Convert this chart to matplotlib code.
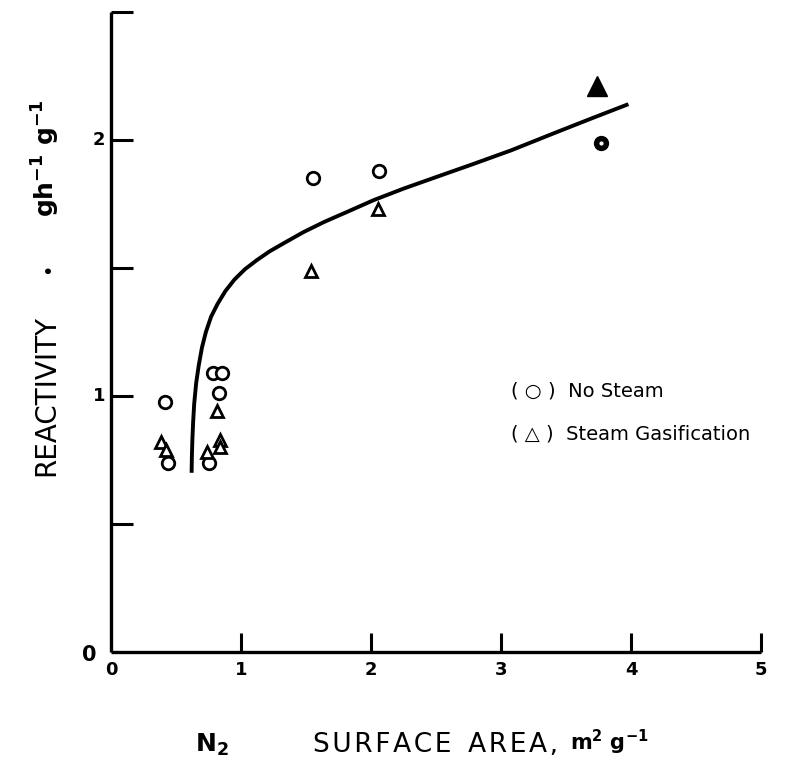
import matplotlib
matplotlib.use("Agg")
import matplotlib.pyplot as plt

# Data
circle_x = [0.415, 0.44, 0.785, 0.855, 0.83, 0.755, 1.55, 2.06]
circle_y = [0.977, 0.74, 1.09, 1.09, 1.01, 0.74, 1.85, 1.88]
tri_x = [0.385, 0.42, 0.74, 0.84, 0.84, 0.815, 1.54, 2.05]
tri_y = [0.82, 0.79, 0.78, 0.83, 0.80, 0.94, 1.49, 1.73]
filled_circle_x = [3.77]
filled_circle_y = [1.99]
filled_tri_x = [3.74]
filled_tri_y = [2.21]

curve_x = [0.62, 0.622, 0.626, 0.632, 0.64, 0.655, 0.675, 0.70, 0.73, 0.77, 0.82,
           0.88, 0.95, 1.03, 1.12, 1.22, 1.34, 1.48, 1.64, 1.82, 2.02, 2.25,
           2.50, 2.78, 3.08, 3.40, 3.70, 3.98]
curve_y = [0.70, 0.76, 0.83, 0.90, 0.97, 1.05, 1.12, 1.19, 1.25, 1.31, 1.36,
           1.41, 1.455, 1.495, 1.53, 1.565, 1.60, 1.64, 1.68, 1.72, 1.765, 1.81,
           1.855, 1.905, 1.96, 2.025, 2.085, 2.14]

x_ticks = [1, 2, 3, 4, 5]
x_tick_labels = ["0", "1", "2", "3", "4", "5"]
y_ticks = [0.5, 1.0, 1.5, 2.0, 2.5]
y_tick_labels = {1.0: "1", 2.0: "2"}

plt.rcParams['font.family'] = ['DejaVu Sans']
plt.rcParams['mathtext.fontset'] = 'dejavusans'

fig = plt.figure(figsize=(7.97, 7.69), dpi=100)
ax = fig.add_axes([111/797, (769-652)/769, 650/797, 640/769])
ax.set_xlim(0, 5)
ax.set_ylim(0, 2.5)

for s in ['top', 'right']:
    ax.spines[s].set_visible(False)
for s in ['left', 'bottom']:
    ax.spines[s].set_linewidth(2.4)
    ax.spines[s].set_capstyle('butt')

ax.set_xticks(x_ticks)
ax.set_yticks(y_ticks)
ax.set_xticklabels([])
ax.set_yticklabels([])
ax.tick_params(axis='x', direction='in', length=14, width=2.2)
ax.tick_params(axis='y', direction='in', length=16, width=2.2)

# tick labels
for i, lab in enumerate(x_tick_labels):
    ax.text(i, -0.07, lab, ha='center', va='center', fontsize=13, fontweight='bold')
for v, lab in y_tick_labels.items():
    ax.text(-0.09, v, lab, ha='center', va='center', fontsize=13, fontweight='bold')
ax.text(-0.17, -0.01, "0", ha='center', va='center', fontsize=15, fontweight='bold')

# curve
ax.plot(curve_x, curve_y, color='black', lw=2.8, solid_capstyle='butt',
        solid_joinstyle='round', clip_on=False)

# points
ax.plot(circle_x, circle_y, 'o', ms=9, mfc='white', mec='black', mew=2.0, ls='none', clip_on=False)
ax.plot(tri_x, tri_y, '^', ms=8, mfc='white', mec='black', mew=2.0, ls='none', clip_on=False)
ax.plot(filled_circle_x, filled_circle_y, 'o', ms=10, mfc='black', mec='black', ls='none', clip_on=False)
ax.plot(filled_circle_x, filled_circle_y, 'o', ms=2, mfc='white', mec='white', ls='none', clip_on=False)
ax.plot(filled_tri_x, filled_tri_y, '^', ms=14, mfc='black', mec='black', ls='none', clip_on=False)

# legend text
ax.text(3.08, 1.02, "( \u25CB )  No Steam", fontsize=14, va='center', ha='left')
ax.text(3.08, 0.85, "( \u25B3 )  Steam Gasification", fontsize=14, va='center', ha='left')

# x axis label pieces
hs = "\u200A"
fig.text(212/797, 1 - 745/769, r"N$_\mathbf{2}$", ha='center', va='center', fontsize=18,
         fontweight='bold')
fig.text(313/797, 1 - 745/769, hs.join("SURFACE") + "  " + hs.join("AREA,"),
         ha='left', va='center', fontsize=19)
fig.text(570/797, 1 - 742/769, r"m$^\mathbf{2}$ g$^\mathbf{-1}$", ha='left', va='center',
         fontsize=15, fontweight='bold')

# y axis label pieces
fig.text(46/797, 1 - 395/769, "REACTIVITY", ha='center', va='center', rotation=90, fontsize=20)
fig.text(48/797, 1 - 268/769, "\u2022", ha='center', va='center', rotation=90, fontsize=14)
fig.text(46/797, 1 - 158/769, r"gh$^\mathbf{-1}$ g$^\mathbf{-1}$", ha='center', va='center',
         rotation=90, fontsize=18, fontweight='bold')

fig.savefig("out.png", dpi=100)
